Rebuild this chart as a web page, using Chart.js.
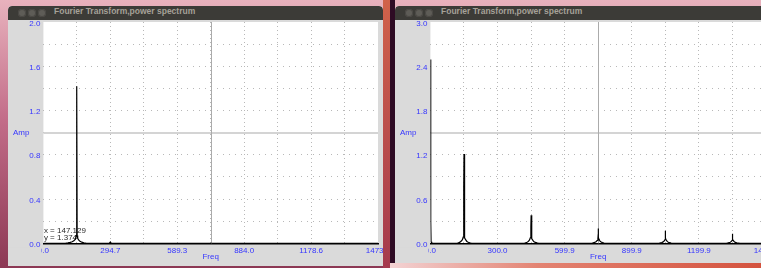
<!DOCTYPE html>
<html>
<head>
<meta charset="utf-8">
<script src="https://cdn.jsdelivr.net/npm/chart.js@4.4.1/dist/chart.umd.min.js"></script>
<style>
html, body { margin: 0; padding: 0; width: 761px; height: 268px; overflow: hidden; }
body {
    position: relative;
    background: linear-gradient(180deg, #e8b2bd 0%, #c26c88 45%, #8c3854 100%);
    font-family: "Liberation Sans", Arial, sans-serif;
}
.strip { position: absolute; }
.win { position: absolute; top: 6px; overflow: hidden; background: #dadada; border-radius: 4px 4px 0 0; }
.bar { position: absolute; left: 0; top: 0; right: 0; height: 14px; background: #3c3b37; border-radius: 4px 4px 0 0; }
.btn { position: absolute; top: 3px; width: 8px; height: 8px; border-radius: 50%; background: #5e5c57; box-shadow: inset 0 0 0 1px #4a4844; }
.ttl { position: absolute; left: 46px; top: 0; line-height: 14px; font: bold 8.5px "Liberation Sans", Arial, sans-serif; color: #a5a198; white-space: nowrap; }
.win canvas { position: absolute; left: 0; top: 14px; }
</style>
</head>
<body>

<div class="strip" style="left:383px;top:0;width:7px;height:268px;background:linear-gradient(180deg,#d0624a,#a53a4e);"></div>
<div class="strip" style="left:390px;top:0;width:5px;height:263px;background:#2e0b24;"></div>
<div class="strip" style="left:390px;top:263px;width:371px;height:5px;background:linear-gradient(90deg,#f3d3d4,#e38372 40%,#d4523e);"></div>

<div class="win" style="left:8px;width:375px;height:260px;">
    <div class="bar">
        <div class="btn" style="left:10px"></div>
        <div class="btn" style="left:20px"></div>
        <div class="btn" style="left:30px"></div>
        <div class="ttl">Fourier Transform,power spectrum</div>
    </div>
    <canvas id="leftChart" width="375" height="246"></canvas>
</div>

<div class="win" style="left:395px;width:380px;height:257px;">
    <div class="bar">
        <div class="btn" style="left:10px"></div>
        <div class="btn" style="left:20px"></div>
        <div class="btn" style="left:30px"></div>
        <div class="ttl">Fourier Transform,power spectrum</div>
    </div>
    <canvas id="rightChart" width="376" height="246"></canvas>
</div>

<script>
/* ================= LEFT WINDOW DATA ================= */
const leftFreq = [0, 96, 108, 118, 127, 134, 139, 142.5, 145, 146.2, 147.2, 148.6, 151, 155, 161, 169, 178, 190, 290, 294.7, 299, 1473.2];
const leftAmp  = [0, 0, 0.004, 0.008, 0.014, 0.022, 0.033, 0.048, 0.07, 0.86, 1.42, 0.07, 0.045, 0.03, 0.018, 0.01, 0.005, 0, 0, 0.012, 0, 0];

const leftXTicks  = [0, 147.32, 294.64, 441.96, 589.28, 736.6, 883.92, 1031.24, 1178.56, 1325.88, 1473.2];
const leftXLabels = ["0.0", "", "294.7", "", "589.3", "", "884.0", "", "1178.6", "", "1473.2"];
const leftYTicks  = [0, 0.2, 0.4, 0.6, 0.8, 1.0, 1.2, 1.4, 1.6, 1.8, 2.0];
const leftYLabels = ["0.0", "", "0.4", "", "0.8", "", "1.2", "", "1.6", "", "2.0"];
const leftReadout = ["x = 147.129", "y = 1.374"];

/* ================= RIGHT WINDOW DATA ================= */
const rightFreq = [
    0, 1.5, 3, 6,
    120, 126, 132, 138, 143, 146.5, 148.8, 149.2, 150.2, 151.5, 154, 158, 163, 169, 176, 184,
    420, 426, 432, 438, 443, 446.5, 448.8, 449.2, 450.2, 451.5, 454, 458, 463, 469, 476, 484,
    722, 728, 734, 740, 745, 748.5, 749.2, 749.6, 750.3, 751.5, 754, 758, 763, 769, 776, 784,
    1022, 1028, 1034, 1040, 1045, 1048.5, 1049.2, 1049.6, 1050.3, 1051.5, 1054, 1058, 1063, 1069, 1076, 1084,
    1322, 1328, 1334, 1340, 1345, 1348.5, 1349.2, 1349.6, 1350.3, 1351.5, 1354, 1358, 1363, 1369, 1376, 1384,
    1499.7
];
const rightAmp = [
    2.49, 0.3, 0.02, 0,
    0, 0.008, 0.016, 0.03, 0.05, 0.085, 0.13, 0.75, 1.21, 0.12, 0.075, 0.045, 0.025, 0.014, 0.007, 0,
    0, 0.007, 0.014, 0.026, 0.045, 0.075, 0.11, 0.22, 0.38, 0.1, 0.065, 0.04, 0.022, 0.012, 0.006, 0,
    0, 0.006, 0.012, 0.022, 0.038, 0.06, 0.09, 0.14, 0.2, 0.08, 0.05, 0.03, 0.017, 0.009, 0.004, 0,
    0, 0.005, 0.01, 0.019, 0.032, 0.05, 0.075, 0.12, 0.17, 0.07, 0.044, 0.026, 0.015, 0.008, 0.004, 0,
    0, 0.004, 0.008, 0.015, 0.026, 0.04, 0.06, 0.095, 0.13, 0.055, 0.035, 0.021, 0.012, 0.006, 0.003, 0,
    0
];

const rightXTicks  = [0, 149.97, 299.94, 449.91, 599.88, 749.85, 899.82, 1049.79, 1199.76, 1349.73, 1499.7];
const rightXLabels = ["0.0", "", "300.0", "", "599.9", "", "899.9", "", "1199.9", "", "1499.7"];
const rightYTicks  = [0, 0.3, 0.6, 0.9, 1.2, 1.5, 1.8, 2.1, 2.4, 2.7, 3.0];
const rightYLabels = ["0.0", "", "0.6", "", "1.2", "", "1.8", "", "2.4", "", "3.0"];

const BLUE = "#3535ff";
const TICK_FONT = { family: "'Liberation Sans', Arial, sans-serif", size: 8 };
const WIN_GRAY = "#dadada";

/* ================= PLOT DECORATION ================= */
const plotFrame = {
    id: "plotFrame",
    beforeDraw(chart) {
        const { ctx, chartArea: a } = chart;
        ctx.save();
        ctx.fillStyle = WIN_GRAY;
        ctx.fillRect(0, 0, chart.width, chart.height);
        ctx.fillStyle = "#fff";
        ctx.fillRect(a.left, a.top, a.right - a.left, a.bottom - a.top);
        ctx.restore();
    },
    beforeDatasetsDraw(chart, args, opts) {
        const { ctx, chartArea: a, scales: { x, y } } = chart;
        const cx = Math.round(x.getPixelForValue((x.min + x.max) / 2)) + 0.5;
        const cy = Math.round(y.getPixelForValue((y.min + y.max) / 2));
        ctx.save();
        /* crosshair through the middle */
        ctx.strokeStyle = "#d4d4d4";
        ctx.lineWidth = 2;
        ctx.beginPath(); ctx.moveTo(a.left, cy); ctx.lineTo(a.right, cy); ctx.stroke();
        ctx.strokeStyle = "#ababab";
        ctx.lineWidth = 1;
        ctx.beginPath(); ctx.moveTo(cx, a.top); ctx.lineTo(cx, a.bottom); ctx.stroke();
        /* mouse readout */
        if (opts.readout) {
            ctx.fillStyle = "#2a2a2a";
            ctx.font = "8px 'Liberation Sans', Arial, sans-serif";
            ctx.textBaseline = "middle";
            ctx.fillText(opts.readout[0], a.left + 0.5, a.bottom - 12.3);
            ctx.fillText(opts.readout[1], a.left + 0.5, a.bottom - 5.3);
        }
        ctx.restore();
    },
    afterDraw(chart, args, opts) {
        const { ctx, chartArea: a } = chart;
        ctx.save();
        /* x labels are clipped near the left edge of the plot */
        ctx.fillStyle = WIN_GRAY;
        ctx.fillRect(0, a.bottom + 4.6, a.left - 2, chart.height - a.bottom);
        /* horizontal y axis name */
        ctx.fillStyle = BLUE;
        ctx.font = "8px 'Liberation Sans', Arial, sans-serif";
        ctx.textBaseline = "middle";
        ctx.fillText(opts.yTitle || "", 5, (a.top + a.bottom) / 2 + 0.5);
        ctx.restore();
    }
};

/* ================= SPECTRUM CHART ================= */
function drawSpectrum(canvasId, freq, amp, xTicks, xLabels, yTicks, yLabels, rightPad, readout) {
    const points = freq.map((f, i) => ({ x: f, y: amp[i] }));
    const lastX = xTicks.length - 1;
    const lastY = yTicks.length - 1;

    return new Chart(document.getElementById(canvasId), {
        type: "line",
        data: {
            datasets: [{
                data: points,
                borderColor: "#000",
                borderWidth: 1.2,
                pointRadius: 0,
                tension: 0,
                fill: false
            }]
        },
        options: {
            responsive: false,
            animation: false,
            events: [],
            layout: { padding: { left: 0, top: 2, right: rightPad, bottom: 0 } },
            plugins: {
                legend: { display: false },
                tooltip: { enabled: false },
                plotFrame: { yTitle: "Amp", readout: readout }
            },
            scales: {
                x: {
                    type: "linear",
                    min: xTicks[0],
                    max: xTicks[lastX],
                    afterBuildTicks: s => { s.ticks = xTicks.map(v => ({ value: v })); },
                    afterFit: s => { s.height = 22.7; s.paddingLeft = 0; s.paddingRight = 0; },
                    ticks: {
                        autoSkip: false,
                        maxRotation: 0,
                        padding: 3,
                        color: BLUE,
                        font: TICK_FONT,
                        callback: (v, i) => xLabels[i]
                    },
                    grid: {
                        drawTicks: false,
                        color: ctx => (ctx.index === 0 || ctx.index === lastX) ? "rgba(0,0,0,0)" : "#b8b8b8"
                    },
                    border: { display: true, color: "#000", width: 1.5, dash: [1, 3] },
                    title: {
                        display: true,
                        text: "Freq",
                        color: BLUE,
                        font: TICK_FONT,
                        padding: { top: 0, bottom: 4 }
                    }
                },
                y: {
                    min: yTicks[0],
                    max: yTicks[lastY],
                    afterBuildTicks: s => { s.ticks = yTicks.map(v => ({ value: v })); },
                    afterFit: s => { s.width = 35.4; s.paddingTop = 0; s.paddingBottom = 0; },
                    ticks: {
                        autoSkip: false,
                        padding: 3,
                        labelOffset: 1.5,
                        color: BLUE,
                        font: TICK_FONT,
                        callback: (v, i) => yLabels[i]
                    },
                    grid: {
                        drawTicks: false,
                        color: ctx => (ctx.index === 0 || ctx.index === lastY) ? "rgba(0,0,0,0)" : "#b8b8b8"
                    },
                    border: { display: false, dash: [1, 5] }
                }
            }
        },
        plugins: [plotFrame]
    });
}

drawSpectrum("leftChart", leftFreq, leftAmp, leftXTicks, leftXLabels, leftYTicks, leftYLabels, 5, leftReadout);
drawSpectrum("rightChart", rightFreq, rightAmp, rightXTicks, rightXLabels, rightYTicks, rightYLabels, 5, null);
</script>
</body>
</html>
